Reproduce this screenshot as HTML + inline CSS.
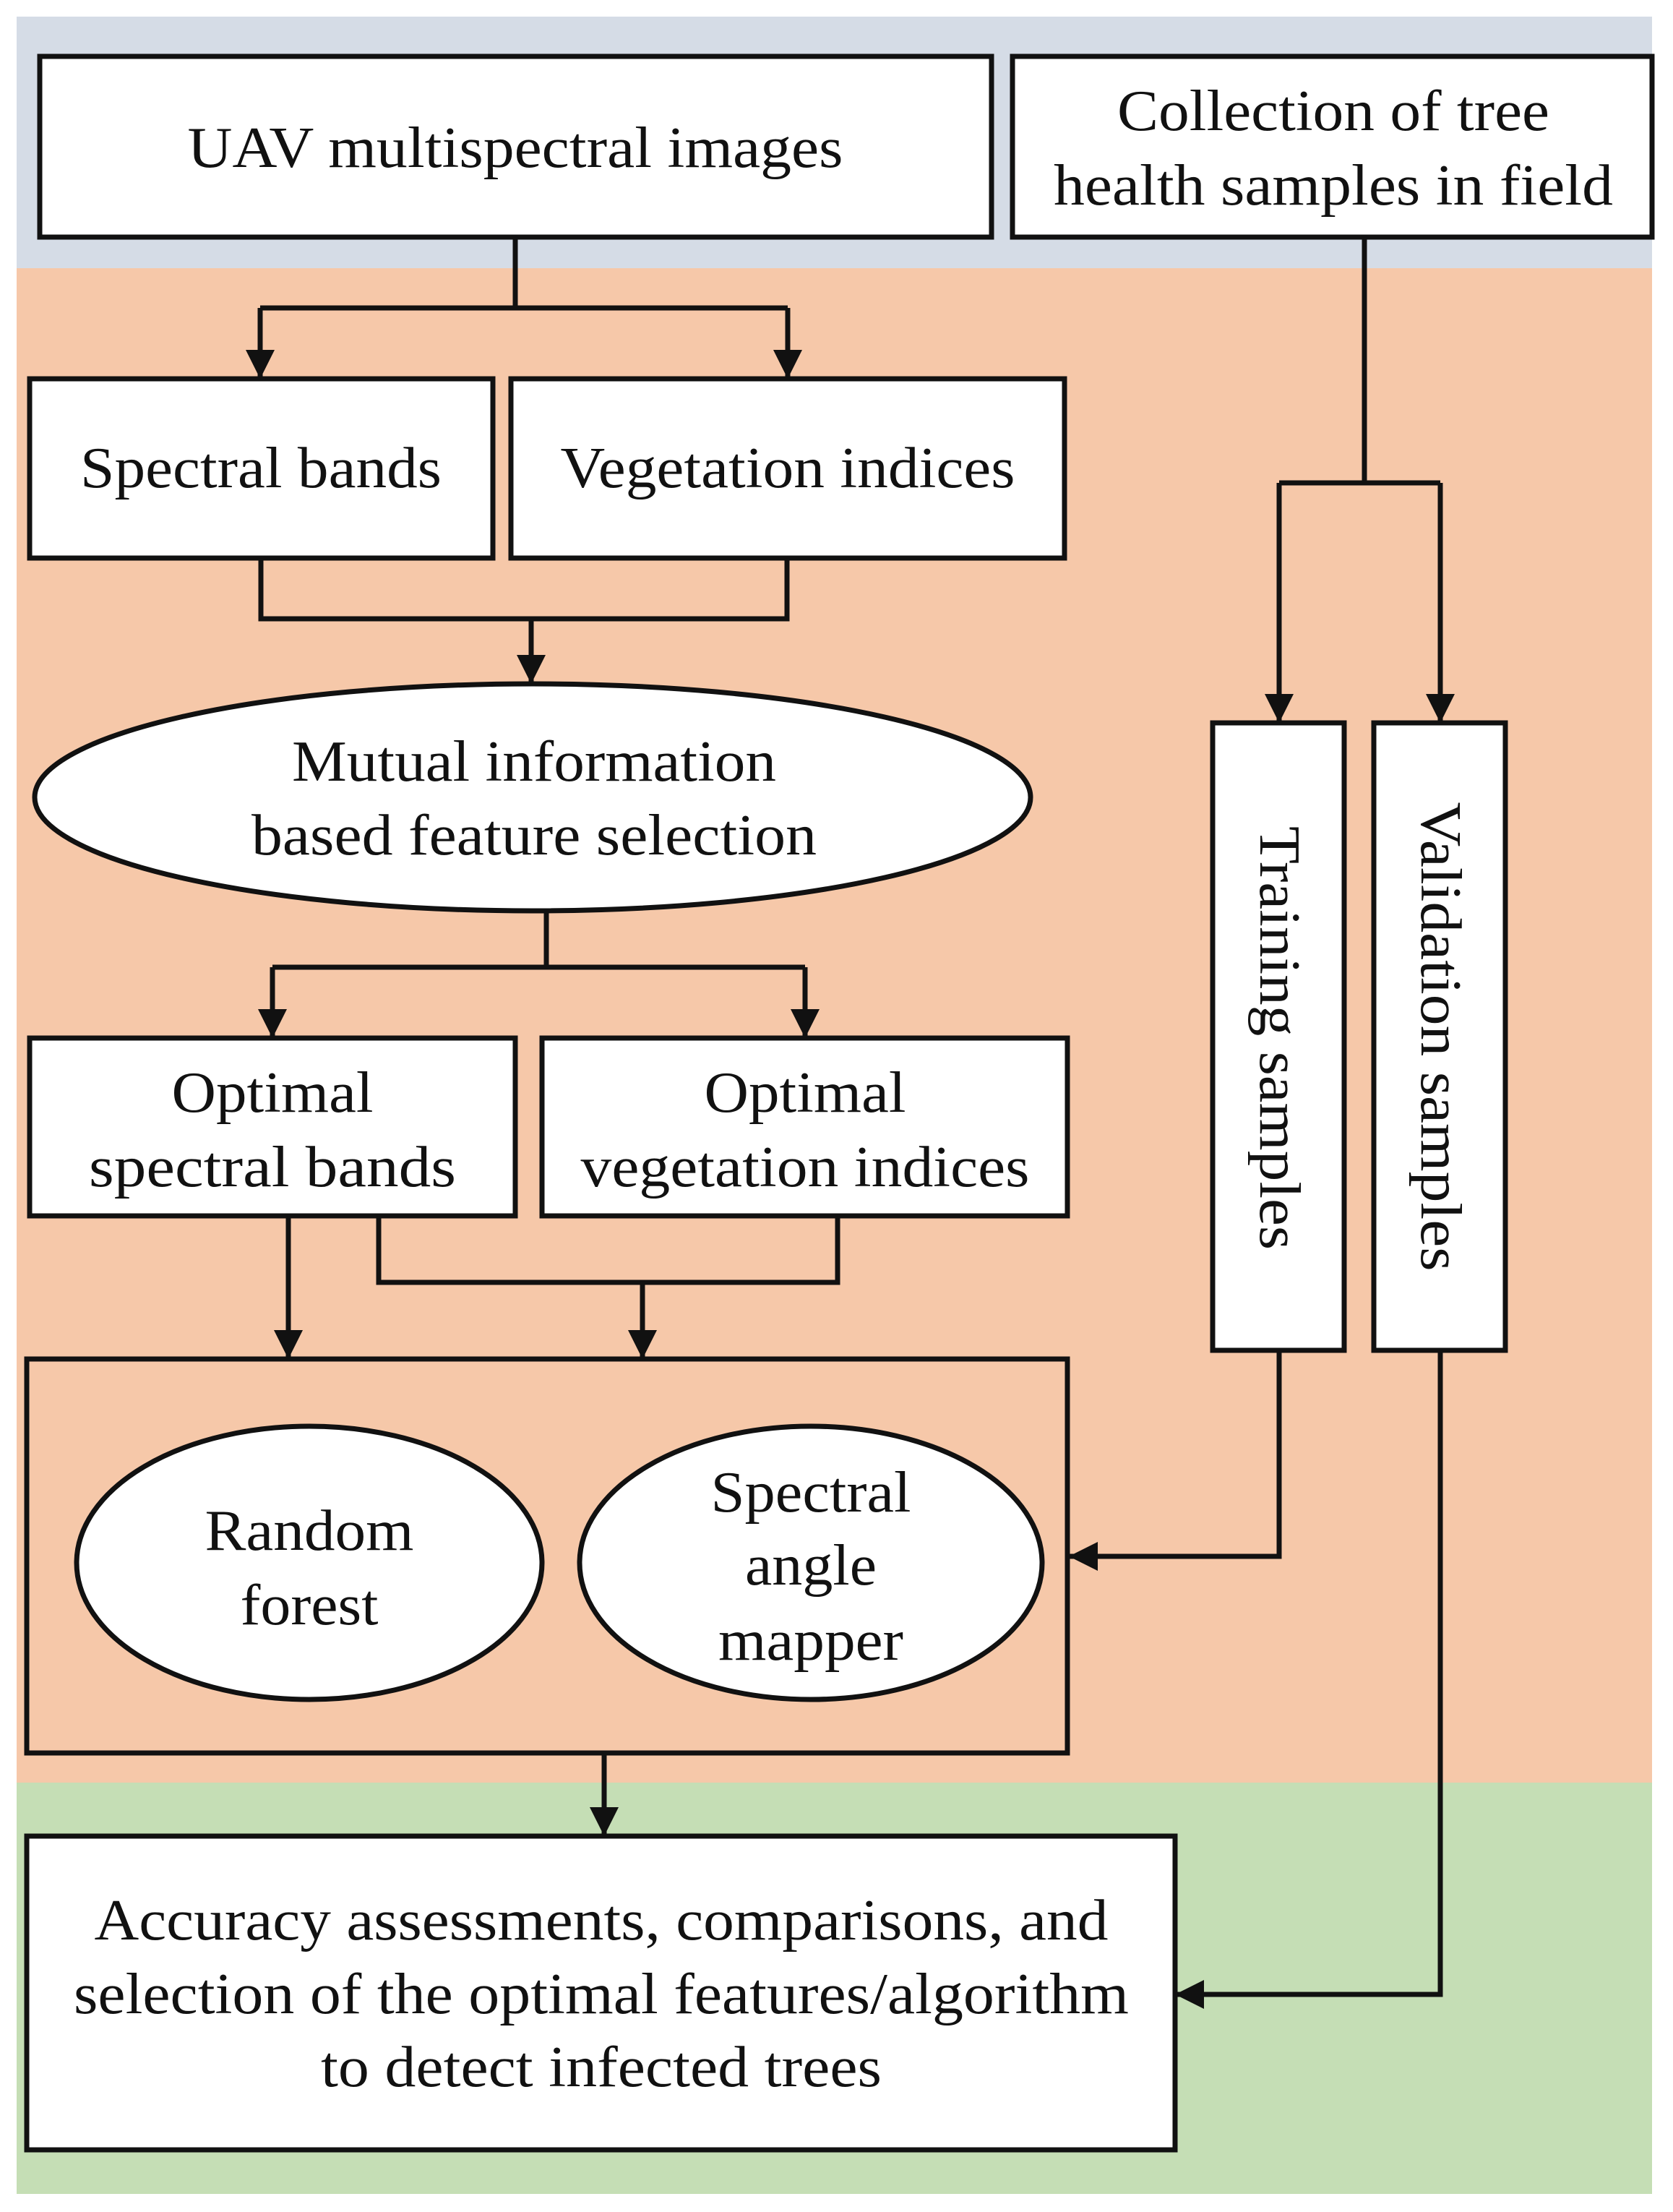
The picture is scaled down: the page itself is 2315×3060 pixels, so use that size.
<!DOCTYPE html>
<html><head><meta charset="utf-8"><style>html,body{margin:0;padding:0;background:#fff}svg{display:block}text{font-family:"Liberation Serif",serif;font-size:80px;fill:#111;text-anchor:middle}</style></head>
<body>
<svg width="2315" height="3060" viewBox="0 0 2315 3060" xmlns="http://www.w3.org/2000/svg">
<defs><marker id="a" markerWidth="44" markerHeight="40" refX="40" refY="20" orient="auto" markerUnits="userSpaceOnUse"><path d="M0,0 L40,20 L0,40 Z" fill="#111"/></marker></defs>
<rect x="23" y="23" width="2263" height="348" fill="#d5dce6"/>
<rect x="23" y="371" width="2263" height="2095" fill="#f6c8a9"/>
<rect x="23" y="2466" width="2263" height="569" fill="#c5deb5"/>
<g stroke="#111" stroke-width="7" fill="none">
<path d="M713,328 V426 M360,426 H1090"/>
<path d="M360,426 V524" marker-end="url(#a)"/>
<path d="M1090,426 V524" marker-end="url(#a)"/>
<path d="M361,772 V856 H1089 V772 M735,856 V946" marker-end="url(#a)"/>
<path d="M756,1260 V1338 M377,1338 H1114"/>
<path d="M377,1338 V1436" marker-end="url(#a)"/>
<path d="M1114,1338 V1436" marker-end="url(#a)"/>
<path d="M399,1682 V1880" marker-end="url(#a)"/>
<path d="M524,1682 V1774 H1159 V1682 M889,1774 V1880" marker-end="url(#a)"/>
<path d="M836,2425 V2540" marker-end="url(#a)"/>
<path d="M1888,328 V668 M1770,668 H1993"/>
<path d="M1770,668 V1000" marker-end="url(#a)"/>
<path d="M1993,668 V1000" marker-end="url(#a)"/>
<path d="M1770,1868 V2153 H1479" marker-end="url(#a)"/>
<path d="M1993,1868 V2759 H1626" marker-end="url(#a)"/>
</g>
<g stroke="#111" stroke-width="7" fill="#fff">
<rect x="55" y="78" width="1317" height="250"/>
<rect x="1401" y="78" width="885" height="250"/>
<rect x="41" y="524" width="641" height="248"/>
<rect x="707" y="524" width="766" height="248"/>
<ellipse cx="737" cy="1103" rx="689" ry="157"/>
<rect x="41" y="1436" width="672" height="246"/>
<rect x="750" y="1436" width="727" height="246"/>
<rect x="37" y="1880" width="1440" height="545" fill="#f6c8a9"/>
<ellipse cx="428" cy="2162" rx="322" ry="189"/>
<ellipse cx="1122" cy="2162" rx="320" ry="189"/>
<rect x="37" y="2540" width="1589" height="434"/>
<rect x="1678" y="1000" width="182" height="868"/>
<rect x="1901" y="1000" width="182" height="868"/>
</g>
<text x="713" y="231" textLength="907" lengthAdjust="spacingAndGlyphs">UAV multispectral images</text>
<text x="1845" y="180" textLength="598" lengthAdjust="spacingAndGlyphs">Collection of tree</text>
<text x="1845" y="283" textLength="774" lengthAdjust="spacingAndGlyphs">health samples in field</text>
<text x="361" y="674" textLength="500" lengthAdjust="spacingAndGlyphs">Spectral bands</text>
<text x="1090" y="674" textLength="629" lengthAdjust="spacingAndGlyphs">Vegetation indices</text>
<text x="739" y="1080" textLength="670" lengthAdjust="spacingAndGlyphs">Mutual information</text>
<text x="739" y="1182" textLength="782" lengthAdjust="spacingAndGlyphs">based feature selection</text>
<text x="377" y="1538" textLength="279" lengthAdjust="spacingAndGlyphs">Optimal</text>
<text x="377" y="1641" textLength="508" lengthAdjust="spacingAndGlyphs">spectral  bands</text>
<text x="1114" y="1538" textLength="279" lengthAdjust="spacingAndGlyphs">Optimal</text>
<text x="1114" y="1641" textLength="621" lengthAdjust="spacingAndGlyphs">vegetation indices</text>
<text transform="translate(1744,1436) rotate(90)" x="0" y="0" textLength="586" lengthAdjust="spacingAndGlyphs">Training samples</text>
<text transform="translate(1967,1434) rotate(90)" x="0" y="0" textLength="649" lengthAdjust="spacingAndGlyphs">Validation samples</text>
<text x="428" y="2144" textLength="289" lengthAdjust="spacingAndGlyphs">Random</text>
<text x="428" y="2247" textLength="191" lengthAdjust="spacingAndGlyphs">forest</text>
<text x="1122" y="2091" textLength="277" lengthAdjust="spacingAndGlyphs">Spectral</text>
<text x="1122" y="2192" textLength="182" lengthAdjust="spacingAndGlyphs">angle</text>
<text x="1122" y="2296" textLength="256" lengthAdjust="spacingAndGlyphs">mapper</text>
<text x="832" y="2683" textLength="1403" lengthAdjust="spacingAndGlyphs">Accuracy assessments, comparisons, and</text>
<text x="832" y="2785" textLength="1460" lengthAdjust="spacingAndGlyphs">selection of the optimal features/algorithm</text>
<text x="832" y="2886" textLength="776" lengthAdjust="spacingAndGlyphs">to detect infected trees</text>
</svg>
</body></html>
